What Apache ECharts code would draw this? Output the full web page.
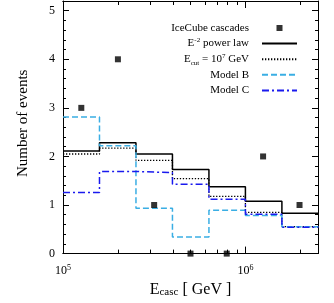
<!DOCTYPE html>
<html>
<head>
<meta charset="utf-8">
<script src="https://cdn.jsdelivr.net/npm/echarts@6/dist/echarts.min.js"></script>
<style>html,body{margin:0;padding:0;background:#fff;}#c{width:334px;height:303px;}</style>
</head>
<body>
<div id="c"></div>
<script>
const binEdges = [1e5, 1.585e5, 2.512e5, 3.981e5, 6.310e5, 1e6, 1.585e6, 2.512e6];
const powerLaw = [2.11, 2.28, 2.05, 1.73, 1.375, 1.08, 0.83];
const cutoff = [2.05, 2.17, 1.92, 1.545, 1.18, 0.85, 0.555];
const modelB = [2.81, 2.22, 0.935, 0.34, 0.894, 0.786, 0.555];
const modelC = [1.26, 1.69, 1.667, 1.43, 1.12, 0.81, 0.54];
const icecubeE = [1.26e5, 2.0e5, 3.16e5, 5.0e5, 7.9e5, 1.25e6, 1.98e6];
const icecubeN = [3, 4, 1, 0, 0, 2, 1];
const xMajorTicks = [1e5, 1e6];
const xMinorTicks = [2e5, 3e5, 4e5, 5e5, 6e5, 7e5, 8e5, 9e5, 2e6];
const xTickLabels = {100000: '{b|10}{s|5}', 1000000: '{b|10}{s|6}'};

const FONT = 'Liberation Serif';
function hist(vals) {
  const d = vals.map((v, i) => [binEdges[i], v]);
  d.push([binEdges[binEdges.length - 1], vals[vals.length - 1]]);
  return d;
}
const labelRich = {
  b: {fontFamily: FONT, fontSize: 12, color: '#000'},
  s: {fontFamily: FONT, fontSize: 8, color: '#000', verticalAlign: 'top', padding: [0, 0, 6, 0]}
};
function xAxisDef(pos, ticks, len, labels) {
  return {
    type: 'log', logBase: 10, min: 1e5, max: 2.5e6, position: pos,
    axisLine: {show: true, lineStyle: {color: '#000', width: 1}},
    axisTick: {show: true, inside: true, length: len, customValues: ticks, lineStyle: {color: '#000', width: 1}},
    axisLabel: labels ? {show: true, customValues: xMajorTicks, margin: 10,
      formatter: v => xTickLabels[Math.round(v)] || '', rich: labelRich} : {show: false},
    splitLine: {show: false}, minorTick: {show: false}
  };
}
function yAxisDef(pos, labels) {
  return {
    type: 'value', min: 0, max: 5.2, interval: 1, position: pos,
    axisLine: {show: true, lineStyle: {color: '#000', width: 1}},
    axisTick: {show: true, inside: true, length: 6, lineStyle: {color: '#000', width: 1}},
    minorTick: {show: true, splitNumber: 5, length: 3, lineStyle: {color: '#000', width: 1}},
    axisLabel: labels ? {show: true, fontFamily: FONT, fontSize: 12, color: '#000', margin: 8,
      showMaxLabel: false} : {show: false},
    splitLine: {show: false}
  };
}
const xa = [
  xAxisDef('bottom', xMajorTicks, 7, true),
  xAxisDef('bottom', xMinorTicks, 4, false),
  xAxisDef('top', xMajorTicks, 7, false),
  xAxisDef('top', xMinorTicks, 4, false)
];
xa[0].name = '{b|E}{sub|casc}{b| [ GeV ]}';
xa[0].nameLocation = 'middle';
xa[0].nameGap = 26;
xa[0].nameTextStyle = {rich: {
  b: {fontFamily: FONT, fontSize: 16, color: '#000'},
  sub: {fontFamily: FONT, fontSize: 11, color: '#000', verticalAlign: 'bottom', padding: [6, 0, 0, 0]}
}};
const ya = [yAxisDef('left', true), yAxisDef('right', false)];
ya[0].name = 'Number of events';
ya[0].nameLocation = 'middle';
ya[0].nameGap = 32;
ya[0].nameTextStyle = {fontFamily: FONT, fontSize: 15, color: '#000', padding: [0, 0, 0, 8]};

const legendNames = {
  'IceCube cascades': '{t|IceCube cascades}',
  'E-2 power law': '{t|E}{sup|-2}{t| power law}',
  'Ecut': '{t|E}{sub|cut}{t| = 10}{sup|7}{t| GeV}',
  'Model B': '{t|Model B}',
  'Model C': '{t|Model C}'
};
const lineSeries = (name, vals, color, type, width) => ({
  name, type: 'line', step: 'end', data: hist(vals), symbol: 'none', showSymbol: false,
  xAxisIndex: 0, yAxisIndex: 0,
  lineStyle: {color, width, type}, itemStyle: {color}
});
const hideSym = {opacity: 0};

const option = {
  animation: false,
  grid: {left: 63, right: 16, top: 1, bottom: 47},
  xAxis: xa,
  yAxis: ya,
  legend: {
    orient: 'vertical', right: 36, top: 21, align: 'right', padding: 0,
    itemWidth: 35, itemHeight: 6, itemGap: 1.6,
    data: [
      {name: 'IceCube cascades', icon: 'path://M0,0h6v6h-6z'},
      {name: 'E-2 power law', itemStyle: hideSym},
      {name: 'Ecut', itemStyle: hideSym},
      {name: 'Model B', itemStyle: hideSym},
      {name: 'Model C', itemStyle: hideSym}
    ],
    formatter: n => legendNames[n],
    textStyle: {padding: [0, 8, 0, 0], lineHeight: 14, rich: {
      t: {fontFamily: FONT, fontSize: 11, color: '#000', lineHeight: 14},
      sup: {fontFamily: FONT, fontSize: 7, color: '#000', verticalAlign: 'top', lineHeight: 10},
      sub: {fontFamily: FONT, fontSize: 7, color: '#000', verticalAlign: 'bottom', lineHeight: 9}
    }}
  },
  series: [
    {name: 'IceCube cascades', type: 'scatter', symbol: 'rect', symbolSize: 6, clip: false, z: 5,
     itemStyle: {color: '#000'}, data: icecubeE.map((e, i) => [e, icecubeN[i]])},
    lineSeries('E-2 power law', powerLaw, '#000', 'solid', 1.5),
    lineSeries('Ecut', cutoff, '#000', [1.3, 1.7], 1.3),
    lineSeries('Model B', modelB, '#3aaee4', [6, 3], 1.5),
    lineSeries('Model C', modelC, '#1a1aee', [7, 3, 2, 3], 1.5)
  ]
};
const chart = echarts.init(document.getElementById('c'), null, {renderer: 'canvas'});
chart.setOption(option);
</script>
</body>
</html>
